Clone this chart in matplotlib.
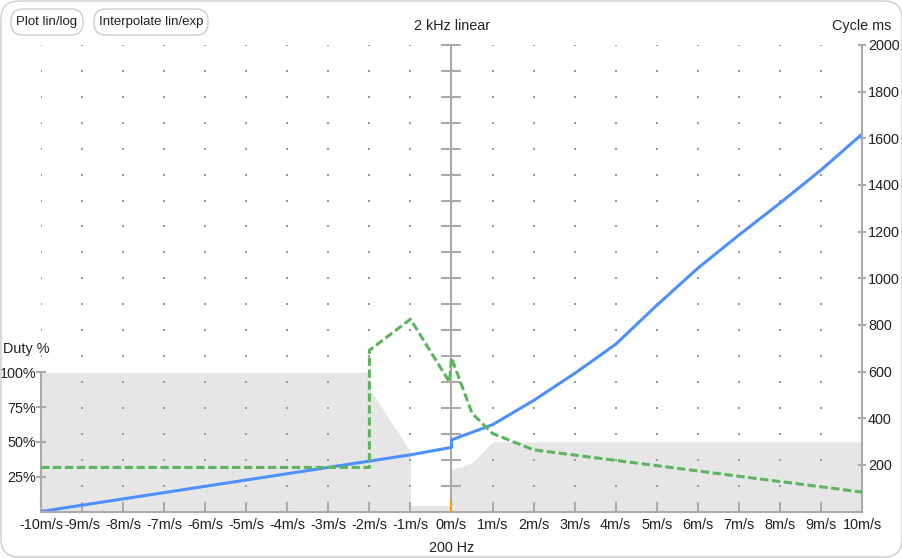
import matplotlib
matplotlib.use("Agg")
import matplotlib.pyplot as plt
from matplotlib.patches import FancyBboxPatch
from matplotlib.transforms import IdentityTransform

# ── Data ────────────────────────────────────────────────────────────────
speed_ticks = list(range(-10, 11))
speed_labels = [f"{v}m/s" for v in speed_ticks]

# cycle time (right axis, ms)
cycle_x = [-10, -1, 0, 0, 1, 2, 3, 4, 5, 6, 7, 8, 9, 10]
cycle_ms = [0, 243, 275, 307, 372, 476, 592, 717, 884, 1043, 1185, 1322, 1464, 1618]

# frequency (centre axis, Hz)
freq_x = [-10, -2, -2, -1, -0.05, 0, 0.5, 1, 2, 10]
freq_hz = [370, 370, 822, 942, 700, 793, 579, 501, 438, 275]

# duty cycle (left axis, %)
duty_x = [-10, -2, -2, -1, -1, 0, 0, 0.5, 1, 10]
duty_pct = [100, 100, 88, 43, 4.3, 4.3, 30, 35, 50, 50]

duty_ticks = [25, 50, 75, 100]
duty_labels = [f"{v}%" for v in duty_ticks]
cycle_ticks = list(range(200, 2001, 200))
freq_ticks = list(range(300, 2001, 100))

# ── Style ───────────────────────────────────────────────────────────────
W, H = 903, 558
AXIS = "#aaaaaa"
DOT = "#999999"
FILL = "#e6e6e6"
BLUE = "#4d90fe"
GREEN = "#5cb55c"
TEXT = "#222222"
FS = 10.4

plt.rcParams["font.family"] = ["Liberation Sans", "DejaVu Sans"]
plt.rcParams["lines.scale_dashes"] = False

fig = plt.figure(figsize=(W / 100, H / 100), dpi=100)
fig.patch.set_facecolor("white")

rect = [41 / W, (H - 511.5) / H, (862 - 41) / W, (511.5 - 45) / H]
duty_top = 100 * 466.5 / 139.2

ax_duty = fig.add_axes(rect, zorder=1)
ax_hz = fig.add_axes(rect, zorder=2)
ax_ms = fig.add_axes(rect, zorder=3)
ax_fg = fig.add_axes(rect, zorder=4)

for a in (ax_duty, ax_hz, ax_ms, ax_fg):
    a.set_xlim(-10, 10)
    a.patch.set_visible(False)
    for s in a.spines.values():
        s.set_visible(False)
    a.set_xticks([])
    a.set_yticks([])

# duty fill + left axis
ax_duty.set_ylim(0, duty_top)
ax_duty.fill_between(duty_x, 0, duty_pct, color=FILL, lw=0)
sp = ax_duty.spines["left"]
sp.set_visible(True)
sp.set_bounds(0, 100)
sp.set_color(AXIS)
sp.set_linewidth(1.5)
ax_duty.set_yticks(duty_ticks)
ax_duty.set_yticklabels(duty_labels)
ax_duty.tick_params(axis="y", direction="inout", length=7, width=1.5,
                    color=AXIS, pad=0, labelsize=FS, labelcolor=TEXT)

# frequency grid dots + centre axis
ax_hz.set_ylim(200, 2000)
gx, gy = [], []
for x in speed_ticks:
    if x == 0:
        continue
    for f in freq_ticks:
        gx.append(x)
        gy.append(f)
ax_hz.scatter(gx, gy, s=2.2, marker="s", color=DOT, lw=0)
sp = ax_hz.spines["left"]
sp.set_visible(True)
sp.set_position(("data", 0))
sp.set_color(AXIS)
sp.set_linewidth(1.5)
ax_hz.set_yticks(freq_ticks)
ax_hz.set_yticklabels([])
ax_hz.tick_params(axis="y", direction="inout", length=14.4, width=1.5, color=AXIS)

# cycle time + right axis + bottom axis
ax_ms.set_ylim(0, 2000)
ax_ms.plot(cycle_x, cycle_ms, color=BLUE, lw=2.2, solid_capstyle="round",
           solid_joinstyle="round")
for side in ("right", "bottom"):
    sp = ax_ms.spines[side]
    sp.set_visible(True)
    sp.set_color(AXIS)
    sp.set_linewidth(1.5)
ax_ms.yaxis.tick_right()
ax_ms.set_yticks(cycle_ticks)
ax_ms.tick_params(axis="y", direction="inout", length=5.8, width=1.5,
                  color=AXIS, pad=1.4, labelsize=FS, labelcolor=TEXT)
ax_ms.set_xticks(speed_ticks)
ax_ms.set_xticklabels(speed_labels)
ax_ms.tick_params(axis="x", direction="in", length=7, width=1.5,
                  color=AXIS, pad=5, labelsize=FS, labelcolor=TEXT)

# frequency line on top, plus the current-position marker
ax_fg.set_ylim(200, 2000)
ax_fg.plot(freq_x, freq_hz, color=GREEN, lw=2.2, dashes=(6, 2.6),
           dash_joinstyle="round")
ax_fg.axvline(0, ymin=0, ymax=11 / 466.5, color="#f5a000", lw=1.5, zorder=5)

# ── Labels ──────────────────────────────────────────────────────────────
def px_text(x, y, s, ha="center", size=FS):
    fig.text(x / W, 1 - y / H, s, ha=ha, va="center", fontsize=size, color=TEXT)

px_text(452, 26, "2 kHz linear")
px_text(862, 26, "Cycle ms")
px_text(3, 349.5, "Duty %", ha="left")
px_text(452, 548, "200 Hz")

# ── Frame + buttons ─────────────────────────────────────────────────────
ident = IdentityTransform()
fig.patches.append(FancyBboxPatch((1, 1), W - 2, H - 2,
                                  boxstyle="round,pad=0,rounding_size=18",
                                  transform=ident, fc="none", ec="#cccccc",
                                  lw=1, figure=fig))
for x0, x1, label in [(11, 83, "Plot lin/log"), (94, 208, "Interpolate lin/exp")]:
    fig.patches.append(FancyBboxPatch((x0, H - 35), x1 - x0, 26,
                                      boxstyle="round,pad=0,rounding_size=12",
                                      transform=ident, fc="white", ec="#cccccc",
                                      lw=1, figure=fig))
    px_text((x0 + x1) / 2, 22, label, size=9.5)

fig.savefig("out.png", dpi=100, facecolor="white")
